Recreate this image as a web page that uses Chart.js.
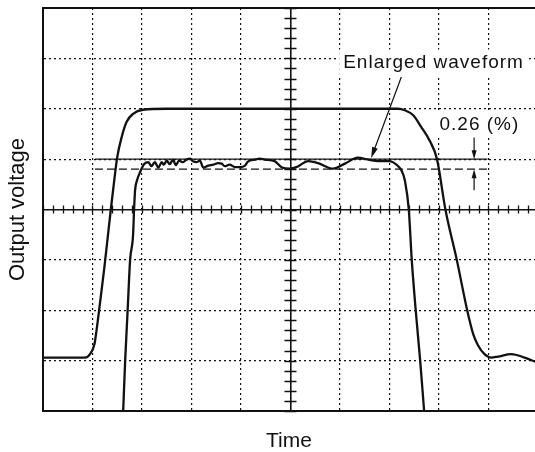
<!DOCTYPE html>
<html>
<head>
<meta charset="utf-8">
<script src="https://cdn.jsdelivr.net/npm/chart.js@4.4.1/dist/chart.umd.min.js"></script>
<style>
  html, body { margin: 0; padding: 0; background: #fff; }
  #wrap { width: 535px; height: 452px; }
</style>
</head>
<body>
<div id="wrap"><canvas id="scope" width="535" height="452"></canvas></div>
<script>
// time axis in divisions, voltage axis in divisions (centre = 0)
const outerX = [0, 0.85, 0.95, 1.04, 1.08, 1.15, 1.24, 1.37, 1.43, 1.50, 1.59, 1.69, 1.82, 2.02, 2.5, 3.5, 4.5, 5.5, 6.5, 7.17, 7.31, 7.48, 7.64, 7.81, 7.96, 8.13, 8.36, 8.57, 8.69, 8.79, 8.92, 9.06, 9.19, 9.46, 9.73, 9.94];
const outerY = [-2.94, -2.94, -2.87, -2.67, -2.41, -1.87, -1.15, 0, 0.5, 1.04, 1.44, 1.74, 1.90, 1.98, 2.0, 2.0, 2.0, 2.0, 2.0, 2.0, 1.97, 1.87, 1.64, 1.37, 1.0, 0, -1.0, -2.0, -2.47, -2.70, -2.87, -2.94, -2.92, -2.87, -2.94, -3.02];

const innerX = [1.62, 1.66, 1.71, 1.76, 1.82, 1.84, 1.86, 1.90, 1.96, 2.04, 2.13, 2.19, 2.26, 2.33, 2.40, 2.44, 2.50, 2.56, 2.63, 2.68, 2.75, 2.83, 2.90, 2.97, 3.03, 3.10, 3.17, 3.24, 3.34, 3.44, 3.54, 3.61, 3.67, 3.77, 3.88, 3.98, 4.08, 4.14, 4.28, 4.38, 4.48, 4.68, 4.82, 4.99, 5.12, 5.36, 5.56, 5.86, 6.10, 6.36, 6.57, 6.77, 7.00, 7.14, 7.24, 7.31, 7.39, 7.45, 7.53, 7.62, 7.70];
const innerY = [-4, -3, -2, -1, -0.5, 0, 0.38, 0.58, 0.74, 0.90, 0.94, 0.86, 0.94, 0.83, 0.94, 0.89, 0.97, 0.90, 0.99, 0.88, 0.97, 0.94, 0.99, 1.01, 0.96, 0.94, 0.97, 0.83, 0.87, 0.89, 0.92, 0.91, 0.86, 0.89, 0.84, 0.84, 0.87, 0.95, 0.99, 1.01, 0.99, 0.96, 0.84, 0.81, 0.84, 0.96, 0.92, 0.81, 0.91, 1.03, 0.99, 0.96, 0.96, 0.89, 0.78, 0.58, 0, -1, -2, -3, -4];

// reference levels (top of ripple / bottom of ripple)
const refX = [1.05, 8.98];
const refTop = [1.0, 1.0];
const refBottom = [0.8, 0.8];

const INK = "#111";
const FONT = "'Liberation Sans', Arial, Helvetica, sans-serif";

const pts = (xs, ys) => xs.map((x, i) => ({ x, y: ys[i] }));

// draw an arrow from (x1,y1) to (x2,y2) with a filled head
function arrow(ctx, x1, y1, x2, y2, len, half) {
  const a = Math.atan2(y2 - y1, x2 - x1);
  ctx.beginPath();
  ctx.moveTo(x1, y1);
  ctx.lineTo(x2 - Math.cos(a) * len * 0.5, y2 - Math.sin(a) * len * 0.5);
  ctx.stroke();
  ctx.beginPath();
  ctx.moveTo(x2, y2);
  ctx.lineTo(x2 - len * Math.cos(a) + half * Math.sin(a), y2 - len * Math.sin(a) - half * Math.cos(a));
  ctx.lineTo(x2 - len * Math.cos(a) - half * Math.sin(a), y2 - len * Math.sin(a) + half * Math.cos(a));
  ctx.closePath();
  ctx.fill();
}

// label with white box behind it
function label(ctx, text, px, py, align) {
  ctx.font = "19px " + FONT;
  ctx.letterSpacing = "1px";
  const w = ctx.measureText(text).width;
  const left = align === "center" ? px - w / 2 : px;
  ctx.fillStyle = "#fff";
  ctx.fillRect(left - 4, py - 19, w + 8, 26);
  ctx.fillStyle = INK;
  ctx.textAlign = "left";
  ctx.textBaseline = "alphabetic";
  ctx.fillText(text, left, py);
}

const scopeMarks = {
  id: "scopeMarks",
  // minor ticks on the centre cross
  beforeDatasetsDraw(chart) {
    const { ctx, scales: { x, y } } = chart;
    const cx = x.getPixelForValue(5), cy = y.getPixelForValue(0);
    ctx.save();
    ctx.strokeStyle = INK;
    ctx.lineWidth = 1.3;
    ctx.beginPath();
    for (let i = 0; i * 0.2 <= x.max; i++) {
      const px = Math.round(x.getPixelForValue(i * 0.2)) + 0.5;
      ctx.moveTo(px, cy - 4);
      ctx.lineTo(px, cy + 4);
    }
    for (let i = -20; i <= 20; i++) {
      const py = Math.round(y.getPixelForValue(i * 0.2)) + 0.5;
      ctx.moveTo(cx - 6, py);
      ctx.lineTo(cx + 6, py);
    }
    ctx.stroke();
    ctx.restore();
  },
  // annotations
  afterDatasetsDraw(chart) {
    const { ctx, scales: { x, y } } = chart;
    ctx.save();
    ctx.strokeStyle = INK;
    ctx.fillStyle = INK;
    ctx.lineWidth = 1.2;

    label(ctx, "Enlarged waveform", x.getPixelForValue(7.89), y.getPixelForValue(2.80), "center");
    arrow(ctx, x.getPixelForValue(7.24), y.getPixelForValue(2.63),
               x.getPixelForValue(6.63), y.getPixelForValue(1.02), 11, 3);

    label(ctx, "0.26 (%)", x.getPixelForValue(8.01), y.getPixelForValue(1.58), "left");
    const ax = x.getPixelForValue(8.71);
    arrow(ctx, ax, y.getPixelForValue(1.43), ax, y.getPixelForValue(1.0), 9, 2.5);
    arrow(ctx, ax, y.getPixelForValue(0.38), ax, y.getPixelForValue(0.8), 9, 2.5);
    ctx.restore();
  },
  // top edge of the graticule, drawn last
  afterDraw(chart) {
    const { ctx, chartArea } = chart;
    ctx.save();
    ctx.fillStyle = INK;
    ctx.fillRect(chartArea.left - 1, chartArea.top - 1, chartArea.right - chartArea.left + 1, 2);
    ctx.restore();
  }
};

new Chart(document.getElementById("scope"), {
  type: "scatter",
  data: {
    datasets: [
      { data: pts(outerX, outerY), showLine: true, borderColor: INK, borderWidth: 2.3, pointRadius: 0, cubicInterpolationMode: "monotone" },
      { data: pts(innerX, innerY), showLine: true, borderColor: INK, borderWidth: 2.3, pointRadius: 0, cubicInterpolationMode: "monotone" },
      { data: pts(refX, refTop), showLine: true, borderColor: INK, borderWidth: 1.3, pointRadius: 0 },
      { data: pts(refX, refBottom), showLine: true, borderColor: INK, borderWidth: 1.3, borderDash: [8, 4], pointRadius: 0 }
    ]
  },
  options: {
    responsive: false,
    animation: false,
    events: [],
    layout: { padding: { left: 0, top: 8, right: 0, bottom: 0 } },
    plugins: { legend: { display: false }, tooltip: { enabled: false } },
    scales: {
      x: {
        type: "linear",
        min: 0,
        max: 9.94,
        ticks: { display: false, stepSize: 1, includeBounds: false },
        grid: {
          color: INK,
          lineWidth: c => (c.tick && c.tick.value === 0 ? 2 : c.tick && c.tick.value === 5 ? 1.6 : 1.2),
          drawTicks: false
        },
        border: {
          display: true, color: INK, width: 2,
          dash: c => (c.tick && (c.tick.value === 0 || c.tick.value === 5) ? [] : [2, 3])
        },
        title: {
          display: true, text: "Time", color: INK,
          font: { family: FONT, size: 21, lineHeight: 1 },
          padding: { top: 20, bottom: 0 }
        }
      },
      y: {
        type: "linear",
        min: -4,
        max: 4,
        ticks: { display: false, stepSize: 1 },
        grid: {
          color: INK,
          lineWidth: c => (c.tick && Math.abs(c.tick.value) === 4 ? 2 : c.tick && c.tick.value === 0 ? 1.6 : 1.2),
          drawTicks: false
        },
        border: {
          display: true, color: INK, width: 2,
          dash: c => (c.tick && (Math.abs(c.tick.value) === 4 || c.tick.value === 0) ? [] : [2, 3])
        },
        title: {
          display: true, text: "Output voltage", color: INK,
          font: { family: FONT, size: 22, lineHeight: 1 },
          padding: { top: 6.5, bottom: 14.5 }
        }
      }
    }
  },
  plugins: [scopeMarks]
});
</script>
</body>
</html>
